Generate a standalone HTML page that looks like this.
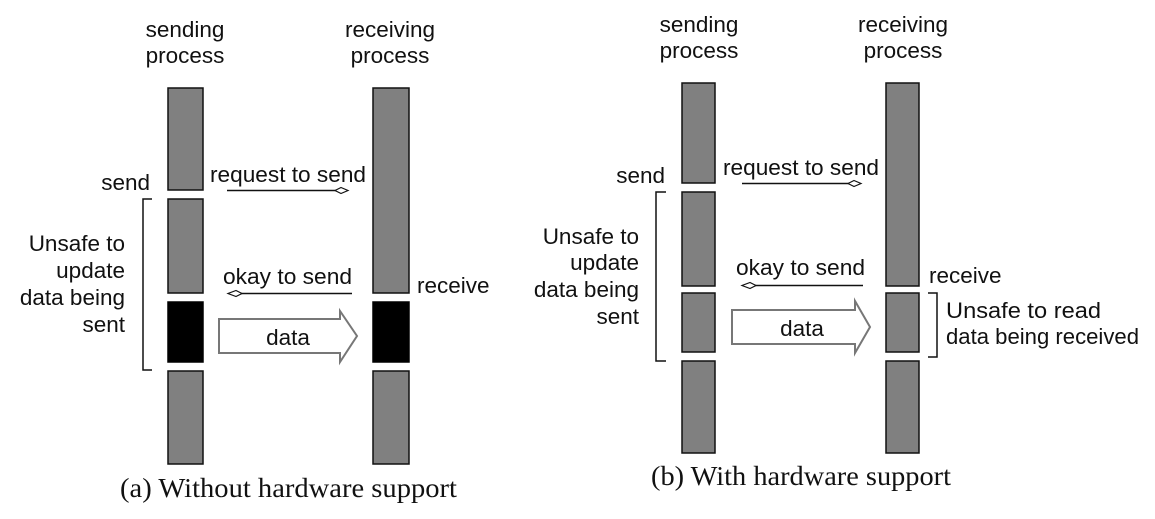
<!DOCTYPE html>
<html><head><meta charset="utf-8"><style>
html,body{margin:0;padding:0;background:#fff;}
svg{display:block;}
.s{font-family:"Liberation Sans",Arial,sans-serif;font-size:22.5px;fill:#111;}
.c{font-family:"Liberation Serif","Times New Roman",serif;font-size:27px;fill:#111;}
.bar{fill:#808080;stroke:#111;stroke-width:1.5;}
.blk{fill:#000;stroke:#000;stroke-width:1.5;}
.ln{stroke:#111;stroke-width:1.5;fill:none;}
.hd{fill:#fff;stroke:#111;stroke-width:1.2;}
.big{fill:#fff;stroke:#777;stroke-width:2;}
</style></head><body>
<svg width="1155" height="519" viewBox="0 0 1155 519">
<g>
<text class="s" x="185" y="37" text-anchor="middle">sending</text>
<text class="s" x="185" y="63" text-anchor="middle">process</text>
<text class="s" x="390" y="37" text-anchor="middle">receiving</text>
<text class="s" x="390" y="63" text-anchor="middle">process</text>
<rect class="bar" x="168" y="88" width="35" height="102"/>
<rect class="bar" x="168" y="199" width="35" height="94"/>
<rect class="blk" x="168" y="302" width="35" height="60"/>
<rect class="bar" x="168" y="371" width="35" height="93"/>
<rect class="bar" x="373" y="88" width="36" height="205"/>
<rect class="blk" x="373" y="302" width="36" height="60"/>
<rect class="bar" x="373" y="371" width="36" height="93"/>
<text class="s" x="150" y="190" text-anchor="end">send</text>
<text class="s" x="210" y="182" textLength="156" lengthAdjust="spacingAndGlyphs">request to send</text>
<line class="ln" x1="227" y1="190.5" x2="337" y2="190.5"/>
<path class="hd" d="M335,190.5 L341,187.5 L348,190.5 L341,193.5 Z"/>
<text class="s" x="223" y="284" textLength="129" lengthAdjust="spacingAndGlyphs">okay to send</text>
<line class="ln" x1="352" y1="293.5" x2="240" y2="293.5"/>
<path class="hd" d="M242,293.5 L236,290.5 L228,293.5 L236,296.5 Z"/>
<text class="s" x="417" y="293">receive</text>
<text class="s" x="125" y="251" text-anchor="end">Unsafe to</text>
<text class="s" x="125" y="278" text-anchor="end">update</text>
<text class="s" x="125" y="305" text-anchor="end">data being</text>
<text class="s" x="125" y="332" text-anchor="end">sent</text>
<path class="ln" d="M152,199 H143 V370 H152"/>
<path class="big" d="M219,319 H340 V311 L357,336 L340,362 V353 H219 Z"/>
<text class="s" x="288" y="345" text-anchor="middle">data</text>
<text class="c" x="120" y="497" textLength="337" lengthAdjust="spacingAndGlyphs">(a) Without hardware support</text>
</g>
<g>
<text class="s" x="699" y="32" text-anchor="middle">sending</text>
<text class="s" x="699" y="58" text-anchor="middle">process</text>
<text class="s" x="903" y="32" text-anchor="middle">receiving</text>
<text class="s" x="903" y="58" text-anchor="middle">process</text>
<rect class="bar" x="682" y="83" width="33" height="100"/>
<rect class="bar" x="682" y="192" width="33" height="94"/>
<rect class="bar" x="682" y="293" width="33" height="59"/>
<rect class="bar" x="682" y="361" width="33" height="92"/>
<rect class="bar" x="886" y="83" width="33" height="203"/>
<rect class="bar" x="886" y="293" width="33" height="59"/>
<rect class="bar" x="886" y="361" width="33" height="92"/>
<text class="s" x="665" y="183" text-anchor="end">send</text>
<text class="s" x="723" y="175" textLength="156" lengthAdjust="spacingAndGlyphs">request to send</text>
<line class="ln" x1="742" y1="183.5" x2="850" y2="183.5"/>
<path class="hd" d="M848,183.5 L854,180.5 L861,183.5 L854,186.5 Z"/>
<text class="s" x="736" y="275" textLength="129" lengthAdjust="spacingAndGlyphs">okay to send</text>
<line class="ln" x1="863" y1="285.5" x2="754" y2="285.5"/>
<path class="hd" d="M756,285.5 L750,282.5 L742,285.5 L750,288.5 Z"/>
<text class="s" x="929" y="283">receive</text>
<text class="s" x="639" y="244" text-anchor="end">Unsafe to</text>
<text class="s" x="639" y="270" text-anchor="end">update</text>
<text class="s" x="639" y="297" text-anchor="end">data being</text>
<text class="s" x="639" y="324" text-anchor="end">sent</text>
<path class="ln" d="M666,192 H656 V361 H666"/>
<path class="big" d="M732,310 H855 V301 L870,327 L855,353 V344 H732 Z"/>
<text class="s" x="802" y="336" text-anchor="middle">data</text>
<path class="ln" d="M928,293 H937 V357 H928"/>
<text class="s" x="946" y="318" textLength="155" lengthAdjust="spacingAndGlyphs">Unsafe to read</text>
<text class="s" x="946" y="344" textLength="193" lengthAdjust="spacingAndGlyphs">data being received</text>
<text class="c" x="651" y="485" textLength="300" lengthAdjust="spacingAndGlyphs">(b) With hardware support</text>
</g>
</svg>
</body></html>
